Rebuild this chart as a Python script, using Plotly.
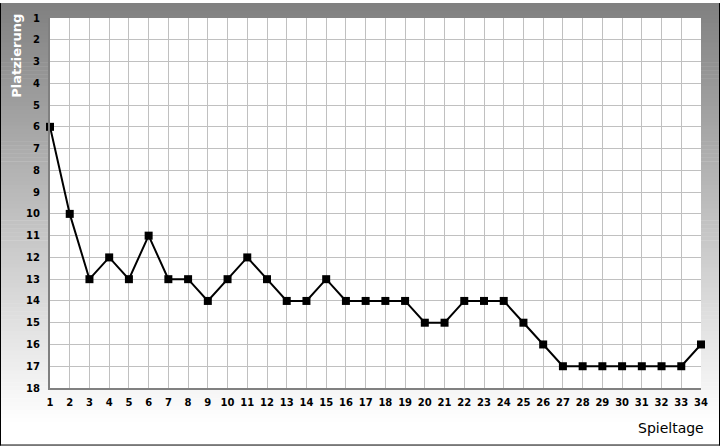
import plotly.graph_objects as go

spieltage = list(range(1, 35))
platz = [6, 10, 13, 12, 13, 11, 13, 13, 14, 13, 12, 13, 14, 14, 13, 14, 14, 14, 14,
         15, 15, 14, 14, 14, 15, 16, 17, 17, 17, 17, 17, 17, 17, 16]
y_ticks = list(range(1, 19))

W, H = 720, 446
ML, MR, MT, MB = 50, 19, 15, 58
PW, PH = W - ML - MR, H - MT - MB


def px2x(px):
    return (px - ML) / PW


def py2y(py):
    return (H - MB - py) / PH


shapes = []
N = 112
for i in range(N):
    y0 = i * H / N
    y1 = (i + 1) * H / N
    frac = (y0 + y1) / 2 / H
    c = int(round(128 + 127 * min(1.0, frac / 0.95)))
    col = f"rgb({c},{c},{c})"
    shapes.append(dict(type="rect", xref="paper", yref="paper", layer="below",
                       x0=px2x(0), x1=px2x(W), y0=py2y(y1 + 0.5), y1=py2y(y0),
                       fillcolor=col, line=dict(width=0)))
# white plot area
shapes.append(dict(type="rect", xref="paper", yref="paper", layer="below",
                   x0=0, x1=1, y0=0, y1=1, fillcolor="white", line=dict(width=0)))
# black border (left, right, bottom)
for (xa, ya, xb, yb) in [(0.5, 0, 0.5, H), (W - 0.5, 0, W - 0.5, H), (0, H - 0.5, W, H - 0.5)]:
    shapes.append(dict(type="line", xref="paper", yref="paper", layer="above",
                       x0=px2x(xa), y0=py2y(ya), x1=px2x(xb), y1=py2y(yb),
                       line=dict(color="black", width=1)))

fig = go.Figure()
fig.add_trace(go.Scatter(
    x=spieltage, y=platz, mode="lines+markers",
    line=dict(color="black", width=2),
    marker=dict(symbol="square", size=8, color="black"),
    cliponaxis=False, showlegend=False))

tickfont = dict(family="DejaVu Sans", size=10, color="black", weight="bold")

fig.update_layout(
    width=W, height=H,
    margin=dict(l=ML, r=MR, t=MT, b=MB),
    paper_bgcolor="rgba(0,0,0,0)",
    plot_bgcolor="white",
    shapes=shapes,
    xaxis=dict(range=[1, 34], tickmode="array", tickvals=spieltage,
               ticktext=[str(v) for v in spieltage],
               showgrid=True, gridcolor="#c0c0c0", gridwidth=1,
               showline=True, linecolor="#808080", linewidth=2,
               zeroline=False, ticks="", ticklabelstandoff=4,
               tickfont=tickfont, fixedrange=True),
    yaxis=dict(range=[18, 1], tickmode="array", tickvals=y_ticks,
               ticktext=[str(v) for v in y_ticks],
               showgrid=True, gridcolor="#c0c0c0", gridwidth=1,
               showline=True, linecolor="#808080", linewidth=2,
               zeroline=False, ticks="", ticklabelstandoff=6,
               tickfont=tickfont, fixedrange=True),
    annotations=[
        dict(text="Platzierung", xref="paper", yref="paper",
             x=px2x(17), y=py2y(53), textangle=-90, showarrow=False,
             xanchor="center", yanchor="middle",
             font=dict(family="DejaVu Sans", size=13, color="white", weight="bold")),
        dict(text="Spieltage", xref="paper", yref="paper",
             x=px2x(706), y=py2y(428), xanchor="right", yanchor="middle",
             showarrow=False,
             font=dict(family="DejaVu Sans", size=14, color="black")),
    ],
)

fig.write_html("out.html", config={"displayModeBar": False},
               post_script="document.body.style.margin='0';")
